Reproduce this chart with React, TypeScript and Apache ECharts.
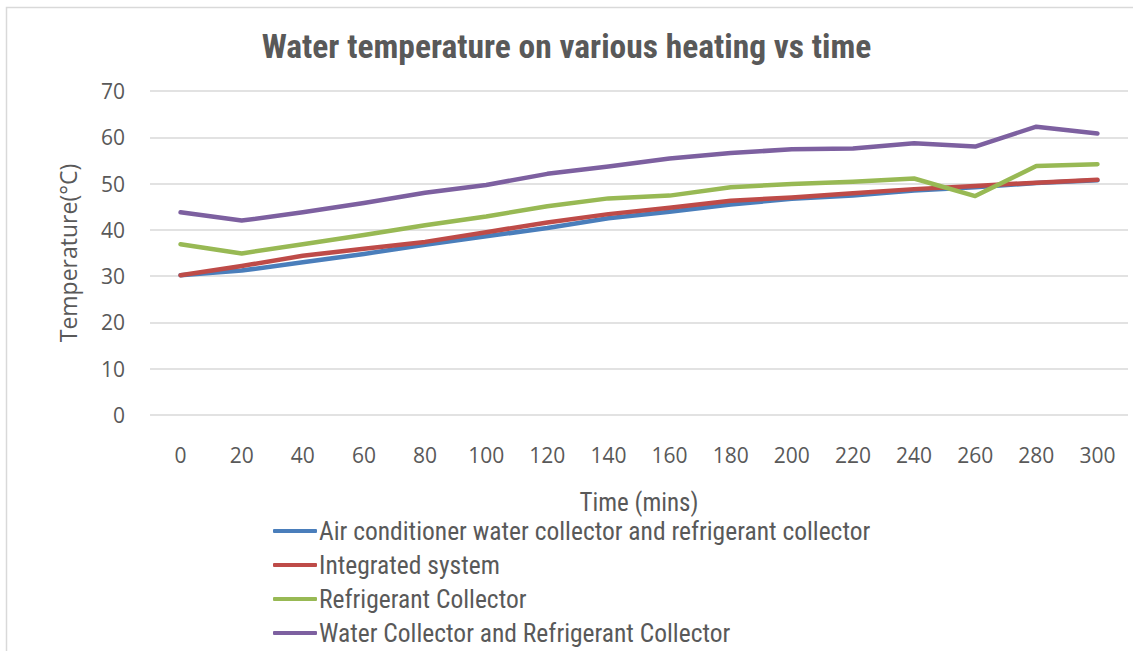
import React, { useEffect, useRef } from "react";
import * as echarts from "echarts";

const categories = ["0", "20", "40", "60", "80", "100", "120", "140", "160", "180", "200", "220", "240", "260", "280", "300"];
const airCond = [30.2, 31.2, 33.0, 34.8, 36.8, 38.6, 40.4, 42.5, 43.9, 45.5, 46.7, 47.4, 48.5, 49.2, 50.1, 50.7];
const integrated = [30.2, 32.2, 34.4, 35.9, 37.4, 39.5, 41.6, 43.4, 44.8, 46.3, 47.0, 47.9, 48.8, 49.5, 50.2, 50.8];
const refrigerant = [36.9, 34.9, 36.9, 38.9, 41.0, 42.9, 45.1, 46.8, 47.4, 49.2, 49.9, 50.4, 51.1, 47.3, 53.8, 54.2];
const waterRefrig = [43.8, 42.0, 43.8, 45.8, 48.0, 49.7, 52.1, 53.7, 55.4, 56.6, 57.4, 57.6, 58.7, 58.0, 62.3, 60.8];
const seriesNames = [
  "Air conditioner water collector and refrigerant collector",
  "Integrated system",
  "Refrigerant Collector",
  "Water Collector and Refrigerant Collector",
];
const colors = ["#4a7ebb", "#be4b48", "#98b954", "#7d60a0"];

const NARROW = "'Liberation Sans Narrow', 'Roboto Condensed', 'DejaVu Sans Condensed', sans-serif";
const WIDE = "'Open Sans', 'Noto Sans', sans-serif";

export default function App() {
  const ref = useRef<HTMLDivElement>(null);
  useEffect(() => {
    document.body.style.margin = "0";
    const chart = echarts.init(ref.current!, null, { renderer: "svg" });
    const data = [airCond, integrated, refrigerant, waterRefrig];
    chart.setOption({
      animation: false,
      backgroundColor: "#ffffff",
      title: {
        text: "Water temperature on various heating vs time",
        left: "center",
        top: 29,
        padding: 0,
        textStyle: { fontFamily: NARROW, fontSize: 33.5, fontWeight: "bold", color: "#595959" },
      },
      graphic: [
        {
          type: "rect",
          shape: { x: 6.5, y: 7.5, width: 1140, height: 660 },
          style: { fill: "none", stroke: "#d9d9d9", lineWidth: 1.5 },
          silent: true,
        },
      ],
      grid: { left: 150, right: 5, top: 91, bottom: 236, containLabel: false },
      xAxis: {
        type: "category",
        data: categories,
        boundaryGap: true,
        name: "Time (mins)",
        nameLocation: "middle",
        nameGap: 75,
        nameTextStyle: { fontFamily: NARROW, fontSize: 25, color: "#595959" },
        axisLine: { show: false },
        axisTick: { show: false },
        axisLabel: { fontFamily: WIDE, fontSize: 21, color: "#595959", margin: 29 },
      },
      yAxis: {
        type: "value",
        min: 0,
        max: 70,
        interval: 10,
        name: "Temperature(°C)",
        nameLocation: "middle",
        nameGap: 71,
        nameRotate: 90,
        nameTextStyle: { fontFamily: WIDE, fontSize: 23, color: "#595959" },
        axisLine: { show: false },
        axisTick: { show: false },
        axisLabel: { fontFamily: WIDE, fontSize: 21, color: "#595959", margin: 25 },
        splitLine: { lineStyle: { color: "#d9d9d9", width: 1.5 } },
      },
      legend: {
        orient: "vertical",
        left: 273,
        top: 518,
        padding: 0,
        itemGap: 8,
        itemWidth: 44,
        itemHeight: 4,
        icon: "roundRect",
        textStyle: { fontFamily: NARROW, fontSize: 25.5, color: "#595959", padding: [0, 0, 0, -3] },
        data: seriesNames,
      },
      series: seriesNames.map((name, i) => ({
        name,
        type: "line",
        data: data[i],
        symbol: "none",
        lineStyle: { color: colors[i], width: 4.5, cap: "round", join: "round" },
        itemStyle: { color: colors[i] },
      })),
    });
    return () => chart.dispose();
  }, []);
  return <div ref={ref} style={{ width: 1133, height: 651 }} />;
}
